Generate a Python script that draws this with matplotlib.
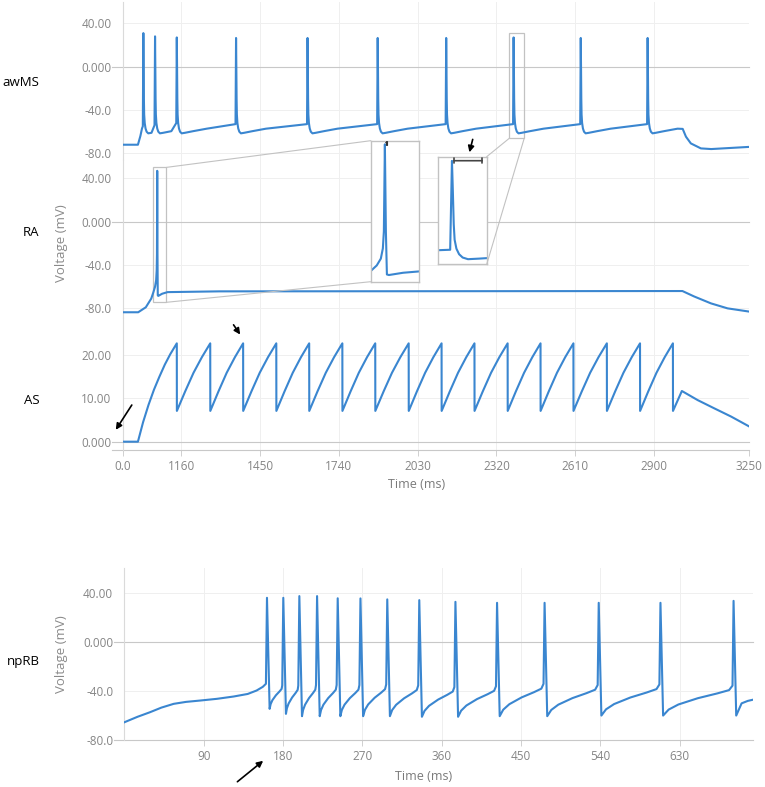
import numpy as np
import matplotlib
matplotlib.use('Agg')
import matplotlib.pyplot as plt
from matplotlib.patches import Rectangle, ConnectionPatch

plt.rcParams['font.family'] = ['Open Sans', 'DejaVu Sans']

# ---------------- data ----------------
# shared time axis of the three upper traces (ms); first tick is printed "0.0"
top_ticks = [945, 1160, 1450, 1740, 2030, 2320, 2610, 2900, 3250]
top_tick_labels = ['0.0', '1160', '1450', '1740', '2030', '2320', '2610', '2900', '3250']
v_ticks = [40, 0, -40, -80]
v_tick_labels = ['40.00', '0.000', '-40.0', '-80.0']
as_ticks = [0, 10, 20]
as_tick_labels = ['0.000', '10.00', '20.00']

# awMS
awms_start_t = [945, 1001, 1010, 1016]
awms_start_v = [-72, -72, -64, -57]
awms_spike_t = [1021, 1064, 1144, 1362, 1625, 1883, 2135, 2383, 2630, 2876]
awms_peak = [31, 28, 27, 26.5, 26.5, 26.5, 26.5, 27, 26.5, 26.5]
awms_pre = [-55, -54, -52, -53, -53, -53, -53, -53, -53, -53]
# repolarisation after each peak (ms after peak, mV)
awms_after_dt = [1, 2, 3, 5, 8, 12, 18, 30, 60, 110]
awms_after_v = [0, -30, -44, -52, -57, -60, -61.5, -61, -59.5, -57.2]
awms_end_t = [3005, 3017, 3035, 3072, 3110, 3250]
awms_end_v = [-57.4, -64.6, -70.8, -75.4, -76, -74]

# RA (single spike)
ra_t = [945, 1002, 1030, 1050, 1058, 1064, 1068, 1070, 1071, 1072, 1073, 1074,
        1076, 1090, 1110, 1300, 3004, 3047, 3109, 3170, 3250]
ra_v = [-83.6, -83.6, -79, -71, -65, -60, -54, -45, -30, 47, -30, -68,
        -68.5, -66.5, -65, -64.3, -64, -69, -75.4, -80, -83]

# AS
as_start_t = [945, 1001, 1020, 1040, 1060, 1080, 1100, 1120]
as_start_v = [0, 0, 4.5, 8.5, 12, 15, 17.8, 20.2]
as_peak_t = [1144, 1267, 1388, 1510, 1631, 1753, 1874, 1997, 2118, 2239,
             2361, 2482, 2603, 2726, 2848, 2969]
as_peak_v = [22.7, 22.7, 22.7, 22.7, 22.7, 22.7, 22.7, 22.7, 22.7, 22.7,
             22.7, 22.7, 22.7, 22.7, 22.7, 22.7]
as_reset = 7.1
as_rise_f = [0.25, 0.5, 0.75]
as_rise_v = [11.6, 15.9, 19.5]
as_end_t = [3002, 3060, 3121, 3183, 3250]
as_end_v = [11.7, 9.6, 7.7, 5.8, 3.5]

# npRB
nprb_ticks = [90, 180, 270, 360, 450, 540, 630]
nprb_start_t = [0, 15, 29, 42, 56, 70, 86, 105, 124, 140, 150, 157]
nprb_start_v = [-65.5, -61, -57.3, -53.5, -50.4, -48.8, -47.7, -46.3, -44.4, -42.3, -39.5, -36.5]
nprb_spike_t = [161.8, 180.3, 198.5, 218.6, 242.0, 267.8, 298.2, 334.5, 375.5,
                422.7, 476.6, 538.0, 608.0, 690.9]
nprb_peak = [36.4, 36.4, 37.8, 37.8, 36.0, 35.9, 35.1, 34.5, 33.1, 32.3, 32.3, 32.3, 32.3, 33.9]
nprb_trough = [-54.5, -58.6, -60.5, -60.5, -60.5, -60.5, -60.5, -61, -61, -60.5, -60.5, -60, -60, -60]
nprb_pre = [-34, -35.3, -35.5, -35, -35, -35, -34.5, -35.3, -36.7, -36, -34, -35, -34.5, -35.5]
# recovery between spikes: fraction of interval -> fraction of trough..threshold
nprb_rise_f = [0.08, 0.22, 0.5, 0.78, 0.95]
nprb_rise_v = [0.2, 0.37, 0.58, 0.74, 0.85]
nprb_end_t = [700, 707, 713]
nprb_end_v = [-50, -48, -47]


# ---------------- build polylines ----------------
def awms_trace():
    t, v = list(awms_start_t), list(awms_start_v)
    nxt = awms_spike_t[1:] + [awms_end_t[0]]
    for ts, pk, pr, nx in zip(awms_spike_t, awms_peak, awms_pre, nxt):
        t += [ts - 2, ts]
        v += [pr, pk]
        for d, a in zip(awms_after_dt, awms_after_v):
            if ts + d < nx - 3:
                t.append(ts + d)
                v.append(a)
    return np.array(t + awms_end_t), np.array(v + awms_end_v)


def as_trace():
    t, v = list(as_start_t), list(as_start_v)
    n = len(as_peak_t)
    for i in range(n):
        tp = as_peak_t[i]
        t += [tp, tp + 0.3]
        v += [as_peak_v[i], as_reset]
        if i + 1 < n:
            span = as_peak_t[i + 1] - tp
            for f, a in zip(as_rise_f, as_rise_v):
                t.append(tp + f * span)
                v.append(a)
    return np.array(t + as_end_t), np.array(v + as_end_v)


def nprb_trace():
    t, v = list(nprb_start_t), list(nprb_start_v)
    n = len(nprb_spike_t)
    for i in range(n):
        ts = nprb_spike_t[i]
        t += [ts - 1.2, ts, ts + 3]
        v += [nprb_pre[i], nprb_peak[i], nprb_trough[i]]
        if i + 1 < n:
            span = nprb_spike_t[i + 1] - 1.2 - (ts + 3)
            for f, r in zip(nprb_rise_f, nprb_rise_v):
                t.append(ts + 3 + f * span)
                v.append(nprb_trough[i] + r * (nprb_pre[i + 1] - nprb_trough[i]))
    return np.array(t + nprb_end_t), np.array(v + nprb_end_v)


awms_t, awms_v = awms_trace()
as_t, as_v = as_trace()
nprb_t, nprb_v = nprb_trace()

# ---------------- figure ----------------
W, H = 765, 787
fig = plt.figure(figsize=(W / 100, H / 100), dpi=100)


def px_rect(x0, y0, x1, y1):
    return [x0 / W, 1 - y1 / H, (x1 - x0) / W, (y1 - y0) / H]


BLUE = '#3a86d0'
GRID = '#efefef'
ZERO = '#c8c8c8'
TICK = '#858585'


def style(ax, yticks, ylabels, ylim, xlim, xticks):
    ax.set_facecolor('none')
    ax.set_xlim(xlim)
    ax.set_ylim(ylim)
    ax.set_yticks(yticks, ylabels)
    ax.set_xticks(xticks)
    for s in ax.spines.values():
        s.set_visible(False)
    ax.spines['left'].set_visible(True)
    ax.spines['left'].set_color('#dadada')
    ax.spines['left'].set_linewidth(0.8)
    ax.tick_params(axis='y', length=0, pad=8, labelsize=8.5, labelcolor=TICK)
    ax.tick_params(axis='x', length=0, labelbottom=False)
    ax.grid(True, color=GRID, lw=0.7, zorder=0)
    ax.set_axisbelow(True)
    ax.axhline(0, xmin=-0.017, xmax=1, color=ZERO, lw=0.8, clip_on=False, zorder=1)


ax1 = fig.add_axes(px_rect(122.7, 2, 749.3, 160))
ax2 = fig.add_axes(px_rect(122.7, 160, 749.3, 318))
ax3 = fig.add_axes(px_rect(122.7, 318, 749.3, 450))
ax4 = fig.add_axes(px_rect(124.3, 568, 752.7, 740))

xl = (top_ticks[0], top_ticks[-1])
style(ax1, v_ticks, v_tick_labels, (-86.1, 59.7), xl, top_ticks)
style(ax2, v_ticks, v_tick_labels, (-88.9, 57.0), xl, top_ticks)
style(ax3, as_ticks, as_tick_labels, (-1.92, 28.55), xl, top_ticks)
style(ax4, v_ticks, v_tick_labels, (-80, 60.8), (0, 712.6), nprb_ticks)

ax1.plot(awms_t, awms_v, color=BLUE, lw=1.5, zorder=3)
ax2.plot(ra_t, ra_v, color=BLUE, lw=1.5, zorder=3)
ax3.plot(as_t, as_v, color=BLUE, lw=1.5, zorder=3)
ax4.plot(nprb_t, nprb_v, color=BLUE, lw=1.5, zorder=3)

# bottom axis lines and x tick labels
for ax, ticks, labels in [(ax3, top_ticks, top_tick_labels),
                          (ax4, nprb_ticks, [str(x) for x in nprb_ticks])]:
    ax.plot([-0.017, 1], [0, 0], transform=ax.transAxes, color=ZERO, lw=0.8,
            clip_on=False, zorder=1)
    ax.set_xticks(ticks, labels)
    ax.tick_params(axis='x', length=4, width=0.7, color='#d0d0d0', pad=3,
                   labelbottom=True, labelsize=8.5, labelcolor=TICK)

# ---------------- zoom insets ----------------
BOX = '#c2c2c2'
# RA spike
ra_box = (1058, 1106, -74.4, 50.2)
ax2.add_patch(Rectangle((ra_box[0], ra_box[2]), ra_box[1] - ra_box[0], ra_box[3] - ra_box[2],
                        fill=False, ec=BOX, lw=0.9, zorder=2))
in1 = fig.add_axes(px_rect(370.7, 140.7, 419.3, 281.7))
in1.plot(ra_t, ra_v, color=BLUE, lw=1.5)
in1.set_xlim(ra_box[0], ra_box[1])
in1.set_ylim(ra_box[2], ra_box[3])
in1.annotate('', xy=(1074, 48.5), xytext=(1070, 48.5),
             arrowprops=dict(arrowstyle='|-|, widthA=0.15, widthB=0.15', color='#333333', lw=0.8))

# awMS spike
aw_box = (2367, 2422, -66.1, 30.8)
ax1.add_patch(Rectangle((aw_box[0], aw_box[2]), aw_box[1] - aw_box[0], aw_box[3] - aw_box[2],
                        fill=False, ec=BOX, lw=0.9, zorder=2))
in2 = fig.add_axes(px_rect(437.7, 156.7, 486.7, 264.3))
in2.plot(awms_t, awms_v, color=BLUE, lw=1.5)
in2.set_xlim(aw_box[0], aw_box[1])
in2.set_ylim(aw_box[2], aw_box[3])
in2.annotate('', xy=(2420, 27.2), xytext=(2382, 27.2),
             arrowprops=dict(arrowstyle='|-|, widthA=0.2, widthB=0.2', color='#444444', lw=1.2))

for ins in (in1, in2):
    ins.set_xticks([])
    ins.set_yticks([])
    ins.set_facecolor('white')
    for s in ins.spines.values():
        s.set_color(BOX)
        s.set_linewidth(1.0)

connectors = [
    (ax2, (ra_box[1], ra_box[3]), in1, (0, 1)),
    (ax2, (ra_box[1], ra_box[2]), in1, (0, 0)),
    (ax1, (aw_box[0], aw_box[2]), in2, (1, 1)),
    (ax1, (aw_box[1], aw_box[2]), in2, (1, 0)),
]
for axa, xya, axb, xyb in connectors:
    fig.add_artist(ConnectionPatch(xyA=xya, coordsA=axa.transData, xyB=xyb,
                                   coordsB=axb.transAxes, color=BOX, lw=0.8))

# ---------------- arrows ----------------
arrow = dict(arrowstyle='-|>', color='black', lw=1.2, mutation_scale=9)
ax1.annotate('', xy=(2218, -81.5), xytext=(2235, -64.6), arrowprops=arrow, annotation_clip=False)
ax3.annotate('', xy=(1383, 24.2), xytext=(1347, 27.5), arrowprops=arrow, annotation_clip=False)
ax3.annotate('', xy=(914, 2.2), xytext=(984, 9.0), arrowprops=arrow, annotation_clip=False)
ax4.annotate('', xy=(159.9, -95.6), xytext=(125.8, -115.6), arrowprops=arrow, annotation_clip=False)

# ---------------- text ----------------
for name, y in [('awMS', 83), ('RA', 233), ('AS', 400), ('npRB', 662)]:
    fig.text(39.5 / W, 1 - y / H, name, ha='right', va='center', fontsize=9.5, color='black')
for y in (243, 654):
    fig.text(62 / W, 1 - y / H, 'Voltage (mV)', rotation=90, ha='center', va='center',
             fontsize=9.5, color='#8a8a8a')
fig.text(416.5 / W, 1 - 484.3 / H, 'Time (ms)', ha='center', va='center', fontsize=9, color='#7a7a7a')
fig.text(423.7 / W, 1 - 776 / H, 'Time (ms)', ha='center', va='center', fontsize=9, color='#7a7a7a')

fig.savefig('out.png', dpi=100)
